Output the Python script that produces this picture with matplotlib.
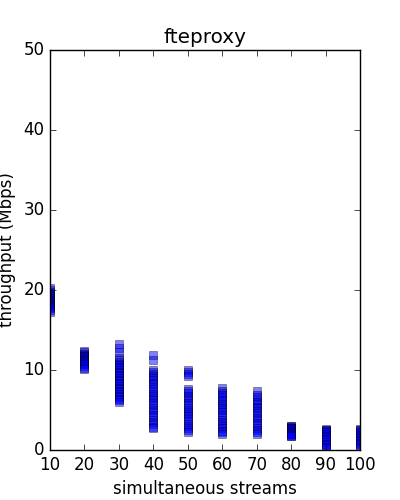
import matplotlib
matplotlib.use("Agg")
import matplotlib.pyplot as plt

# simultaneous streams -> measured throughput samples (Mbps)
streams = [10, 20, 30, 40, 50, 60, 70, 80, 90, 100]

tput10 = [20.3, 20.0, 19.8, 19.6, 19.5, 19.4, 19.2, 19.1, 19.0, 18.9, 18.8, 18.7,
          18.6, 18.5, 18.4, 18.3, 18.2, 18.1, 18.0, 17.9, 17.7, 17.5, 17.3]
tput20 = [12.4, 12.2, 12.0, 11.9, 11.8, 11.7, 11.6, 11.5, 11.4, 11.3, 11.2, 11.1,
          11.0, 10.9, 10.8, 10.7, 10.5, 10.3, 10.1]
tput30 = [13.25, 12.7, 12.2, 11.5, 11.2, 11.0, 10.8, 10.6, 10.4, 10.2, 10.0, 9.8,
          9.6, 9.4, 9.2, 9.0, 8.8, 8.6, 8.4, 8.2, 8.0, 7.8, 7.6, 7.4, 7.2, 7.0,
          6.8, 6.6, 6.4, 6.2, 6.06]
tput40 = [11.9, 11.2, 10.0, 9.7, 9.5, 9.2, 9.0, 8.7, 8.4, 8.2, 7.9, 7.6, 7.3,
          7.0, 6.8, 6.5, 6.2, 5.9, 5.6, 5.3, 5.0, 4.7, 4.4, 4.1, 3.8, 3.5, 3.2,
          2.9, 2.8]
tput50 = [10.0, 9.8, 9.5, 9.25, 7.6, 7.4, 7.1, 6.8, 6.5, 6.2, 5.9, 5.6, 5.3,
          5.0, 4.8, 4.5, 4.2, 3.9, 3.6, 3.3, 3.0, 2.8, 2.5, 2.3]
tput60 = [7.75, 7.4, 7.1, 6.9, 6.6, 6.3, 6.1, 5.8, 5.5, 5.2, 5.0, 4.7, 4.4,
          4.1, 3.8, 3.5, 3.2, 3.0, 2.7, 2.4, 2.2, 2.0]
tput70 = [7.4, 6.9, 6.6, 6.3, 6.0, 5.7, 5.4, 5.2, 4.9, 4.6, 4.3, 4.0, 3.7,
          3.4, 3.1, 2.8, 2.5, 2.2, 2.0]
tput80 = [3.0, 2.95, 2.9, 2.8, 2.75, 2.7, 2.6, 2.5, 2.4, 2.3, 2.2, 2.1, 2.0,
          1.95, 1.9, 1.8, 1.75]
tput90 = [2.6, 2.55, 2.5, 2.4, 2.3, 2.2, 2.0, 1.8, 1.6, 1.4, 1.2, 1.0, 0.8,
          0.6, 0.4, 0.3]
tput100 = [2.6, 2.55, 2.5, 2.3, 2.1, 1.9, 1.7, 1.5, 1.3, 1.1, 0.9, 0.7, 0.5, 0.3]

samples = [tput10, tput20, tput30, tput40, tput50,
           tput60, tput70, tput80, tput90, tput100]

plt.style.use("classic")
fig = plt.figure(figsize=(4, 5), dpi=100)
fig.patch.set_facecolor("white")
ax = fig.add_subplot(1, 1, 1)

for n, vals in zip(streams, samples):
  ax.plot([n] * len(vals), vals, "s", color="b", markeredgecolor="k",
          markeredgewidth=0.5, markersize=6, alpha=0.5)

ax.set_xlim(10, 100)
ax.set_ylim(0, 50)
ax.set_xticks(streams)
ax.set_title("fteproxy")
ax.set_xlabel("simultaneous streams")
ax.set_ylabel("throughput (Mbps)")

fig.savefig("out.png", dpi=100, facecolor="white")
